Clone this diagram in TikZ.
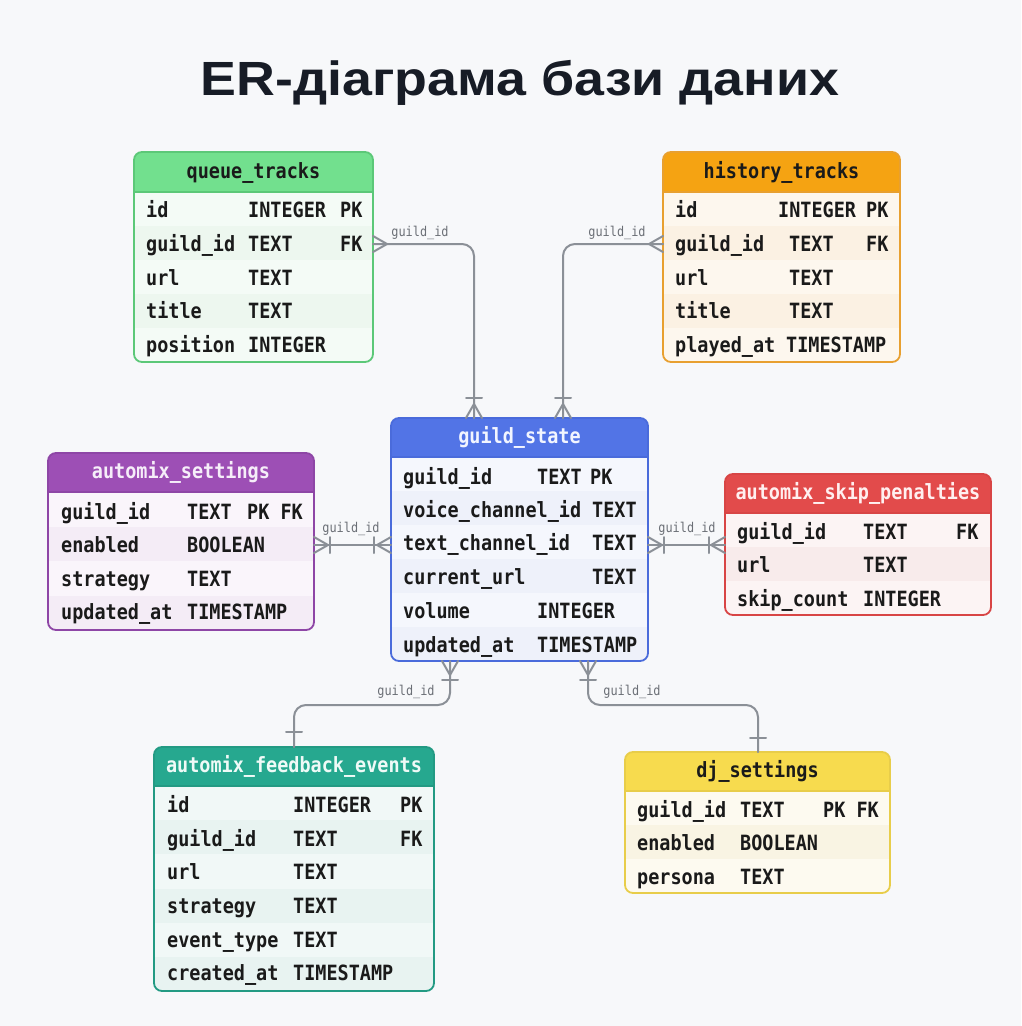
\documentclass[tikz,border=0pt]{standalone}
\usepackage{fontspec}
\usetikzlibrary{calc}
\setmainfont{Liberation Sans}
\newfontfamily\titlefont{Liberation Sans}[FakeStretch=1.12]
\newfontfamily\cellfont{DejaVu Sans Mono}[FakeStretch=0.88]

% page and connector colours
\definecolor{bgc}{HTML}{F7F8FA}
\definecolor{titlec}{HTML}{171C26}
\definecolor{connc}{HTML}{8B9097}
\definecolor{lblc}{HTML}{6B6F76}
\definecolor{cellc}{HTML}{1A1A1A}
% table palettes: head / line / body / stripe / title
\definecolor{qthead}{HTML}{72E08E}\definecolor{qtline}{HTML}{5CC878}\definecolor{qtbody}{HTML}{F4FBF6}\definecolor{qtstripe}{HTML}{EDF7EF}\definecolor{qttitle}{HTML}{1A1A1A}
\definecolor{hthead}{HTML}{F5A312}\definecolor{htline}{HTML}{E8A030}\definecolor{htbody}{HTML}{FDF7EE}\definecolor{htstripe}{HTML}{FBF1E3}\definecolor{httitle}{HTML}{1A1A1A}
\definecolor{gshead}{HTML}{5274E6}\definecolor{gsline}{HTML}{4A6BDB}\definecolor{gsbody}{HTML}{F5F7FD}\definecolor{gsstripe}{HTML}{EEF1FA}\definecolor{gstitle}{HTML}{F2F5FF}
\definecolor{ashead}{HTML}{9D4FB5}\definecolor{asline}{HTML}{8E46A6}\definecolor{asbody}{HTML}{FAF5FB}\definecolor{asstripe}{HTML}{F4ECF6}\definecolor{astitle}{HTML}{F6EEF9}
\definecolor{sphead}{HTML}{E24B4B}\definecolor{spline}{HTML}{D84545}\definecolor{spbody}{HTML}{FCF4F4}\definecolor{spstripe}{HTML}{F8EBEB}\definecolor{sptitle}{HTML}{FFF0F0}
\definecolor{fehead}{HTML}{26A88F}\definecolor{feline}{HTML}{239A83}\definecolor{febody}{HTML}{F1F8F7}\definecolor{festripe}{HTML}{E8F3F1}\definecolor{fetitle}{HTML}{EFFAF7}
\definecolor{djhead}{HTML}{F7DB4E}\definecolor{djline}{HTML}{E8CD4A}\definecolor{djbody}{HTML}{FDFAF0}\definecolor{djstripe}{HTML}{F9F4E3}\definecolor{djtitle}{HTML}{1A1A1A}

\tikzset{
  tblframe/.style={rectangle, rounded corners=8pt, line width=1.8pt, inner sep=0pt, outer sep=0pt},
  headtext/.style={font=\cellfont\bfseries\fontsize{21}{24}\selectfont, inner sep=0pt, anchor=base},
  cell/.style={font=\cellfont\bfseries\fontsize{21}{24}\selectfont, text=cellc, inner sep=0pt, anchor=base west},
  lbl/.style={font=\cellfont\fontsize{13.5}{16}\selectfont, text=lblc, inner sep=0pt, anchor=base},
  conn/.style={draw=connc, line width=2pt, line cap=round, line join=round},
}

\newcounter{cellid}
% one text cell at left x, row centre y
\newcommand\fld[3]{\stepcounter{cellid}\edef\cellname{cell\arabic{cellid}}%
  \node[cell] (\cellname) at (#1,{#2+7}) {#3};}
% one table row: y, name x, name, type x, type, key x, key
\newcommand\erow[7]{\fld{#2}{#1}{#3}\fld{#4}{#1}{#5}%
  \if\relax\detokenize{#7}\relax\else\fld{#6}{#1}{#7}\fi}
% table: id, x1, y1, x2, y2, header bottom, palette, title, rows
\newcommand\ertable[9]{%
  \begin{scope}
    \clip[rounded corners=8pt] (#2,#3) rectangle (#4,#5);
    \fill[#7body] (#2,#3) rectangle (#4,#5);
    \pgfmathsetmacro\rh{(#5-#6)/#9}
    \foreach \i in {1,...,#9}{\ifodd\i\else
      \fill[#7stripe] (#2,{#6+(\i-1)*\rh}) rectangle (#4,{#6+\i*\rh});\fi}
    \fill[#7head] (#2,#3) rectangle (#4,#6);
  \end{scope}
  \draw[#7line, line width=1.2pt] (#2,#6) -- (#4,#6);
  \node[tblframe, draw=#7line, minimum width={(#4-#2)*1pt}, minimum height={(#5-#3)*1pt}, anchor=north west] (#1) at (#2,#3) {};
  \node[headtext, text=#7title] (#1-title) at ({(#2+#4)/2},{(#3+#6)/2+6}) {#8};
}

\begin{document}
\begin{tikzpicture}[x=1pt, y=-1pt]
\useasboundingbox (0,0) rectangle (1021,1026);
\fill[bgc] (0,0) rectangle (1021,1026);

\node[font=\titlefont\bfseries\fontsize{48}{58}\selectfont, text=titlec, inner sep=0pt, anchor=base] (title) at (520,95) {ER-діаграма бази даних};

% ---------- tables ----------
\ertable{qt}{134}{152}{373}{362}{192}{qt}{queue\_tracks}{5}
\erow{210}{146}{id}{248}{INTEGER}{340}{PK}
\erow{244}{146}{guild\_id}{248}{TEXT}{340}{FK}
\erow{278}{146}{url}{248}{TEXT}{340}{}
\erow{311}{146}{title}{248}{TEXT}{340}{}
\erow{345}{146}{position}{248}{INTEGER}{340}{}

\ertable{ht}{663}{152}{900}{362}{192}{ht}{history\_tracks}{5}
\erow{210}{675}{id}{778}{INTEGER}{866}{PK}
\erow{244}{675}{guild\_id}{789}{TEXT}{866}{FK}
\erow{278}{675}{url}{789}{TEXT}{866}{}
\erow{311}{675}{title}{789}{TEXT}{866}{}
\erow{345}{675}{played\_at}{786}{TIMESTAMP}{866}{}

\ertable{gs}{391}{418}{648}{661}{457}{gs}{guild\_state}{6}
\erow{477}{403}{guild\_id}{537}{TEXT}{590}{PK}
\erow{510}{403}{voice\_channel\_id}{592}{TEXT}{590}{}
\erow{543}{403}{text\_channel\_id}{592}{TEXT}{590}{}
\erow{577}{403}{current\_url}{592}{TEXT}{590}{}
\erow{611}{403}{volume}{537}{INTEGER}{590}{}
\erow{645}{403}{updated\_at}{537}{TIMESTAMP}{590}{}

\ertable{as}{48}{453}{314}{630}{492}{as}{automix\_settings}{4}
\erow{512}{61}{guild\_id}{187}{TEXT}{247}{PK FK}
\erow{545}{61}{enabled}{187}{BOOLEAN}{247}{}
\erow{579}{61}{strategy}{187}{TEXT}{247}{}
\erow{612}{61}{updated\_at}{187}{TIMESTAMP}{247}{}

\ertable{sp}{725}{474}{991}{615}{513}{sp}{automix\_skip\_penalties}{3}
\erow{532}{737}{guild\_id}{863}{TEXT}{956}{FK}
\erow{565}{737}{url}{863}{TEXT}{956}{}
\erow{599}{737}{skip\_count}{863}{INTEGER}{956}{}

\ertable{fe}{154}{747}{434}{991}{786}{fe}{automix\_feedback\_events}{6}
\erow{805}{167}{id}{293}{INTEGER}{400}{PK}
\erow{839}{167}{guild\_id}{293}{TEXT}{400}{FK}
\erow{872}{167}{url}{293}{TEXT}{400}{}
\erow{906}{167}{strategy}{293}{TEXT}{400}{}
\erow{940}{167}{event\_type}{293}{TEXT}{400}{}
\erow{973}{167}{created\_at}{293}{TIMESTAMP}{400}{}

\ertable{dj}{625}{752}{890}{893}{791}{dj}{dj\_settings}{3}
\erow{810}{637}{guild\_id}{740}{TEXT}{823}{PK FK}
\erow{843}{637}{enabled}{740}{BOOLEAN}{823}{}
\erow{877}{637}{persona}{740}{TEXT}{823}{}

% ---------- attachment points ----------
\coordinate (qtFK) at (qt.east |- 0,244);
\coordinate (htFK) at (ht.west |- 0,244);
\coordinate (gsN1) at (gs.north -| 474,0);
\coordinate (gsN2) at (gs.north -| 563,0);
\coordinate (asR)  at (as.east |- 0,545);
\coordinate (gsW)  at (gs.west |- 0,545);
\coordinate (gsE)  at (gs.east |- 0,545);
\coordinate (spW)  at (sp.west |- 0,545);
\coordinate (gsS1) at (gs.south -| 450,0);
\coordinate (gsS2) at (gs.south -| 588,0);
\coordinate (feN)  at (fe.north -| 294,0);
\coordinate (djN)  at (dj.north -| 758,0);

% ---------- relationships ----------
\draw[conn, rounded corners=12pt] (qtFK) -| (gsN1);
\draw[conn, rounded corners=12pt] (htFK) -| (gsN2);
\draw[conn] (asR) -- (gsW);
\draw[conn] (gsE) -- (spW);
\draw[conn, rounded corners=12pt] (gsS1) -- (gsS1 |- 0,705) -| (feN);
\draw[conn, rounded corners=12pt] (gsS2) -- (gsS2 |- 0,705) -| (djN);

% crow's feet and bars
\draw[conn] (qtFK) ++(0,-8) -- ++(14,8) -- ++(-14,8);
\draw[conn] (htFK) ++(0,-8) -- ++(-14,8) -- ++(14,8);
\foreach \p in {gsN1,gsN2}{
  \draw[conn] (\p) ++(-8,0) -- ++(8,-14) -- ++(8,14);
  \draw[conn] (\p) ++(-8,-20) -- ++(16,0);
}
\draw[conn] (asR) ++(0,-8) -- ++(14,8) -- ++(-14,8);
\draw[conn] (asR) ++(16,-8) -- ++(0,16);
\draw[conn] (gsW) ++(0,-8) -- ++(-14,8) -- ++(14,8);
\draw[conn] (gsW) ++(-17,-8) -- ++(0,16);
\draw[conn] (gsE) ++(0,-8) -- ++(14,8) -- ++(-14,8);
\draw[conn] (gsE) ++(16,-8) -- ++(0,16);
\draw[conn] (spW) ++(0,-8) -- ++(-14,8) -- ++(14,8);
\draw[conn] (spW) ++(-16,-8) -- ++(0,16);
\foreach \p in {gsS1,gsS2}{
  \draw[conn] (\p) ++(-8,0) -- ++(8,14) -- ++(8,-14);
  \draw[conn] (\p) ++(-8,19) -- ++(16,0);
}
\draw[conn] (feN) ++(-8,-15) -- ++(16,0);
\draw[conn] (djN) ++(-8,-14) -- ++(16,0);

% relationship labels
\node[lbl] (l1) at (420,236) {guild\_id};
\node[lbl] (l2) at (617,236) {guild\_id};
\node[lbl] (l3) at (351,532) {guild\_id};
\node[lbl] (l4) at (687,532) {guild\_id};
\node[lbl] (l5) at (406,695) {guild\_id};
\node[lbl] (l6) at (632,695) {guild\_id};
\end{tikzpicture}
\end{document}
